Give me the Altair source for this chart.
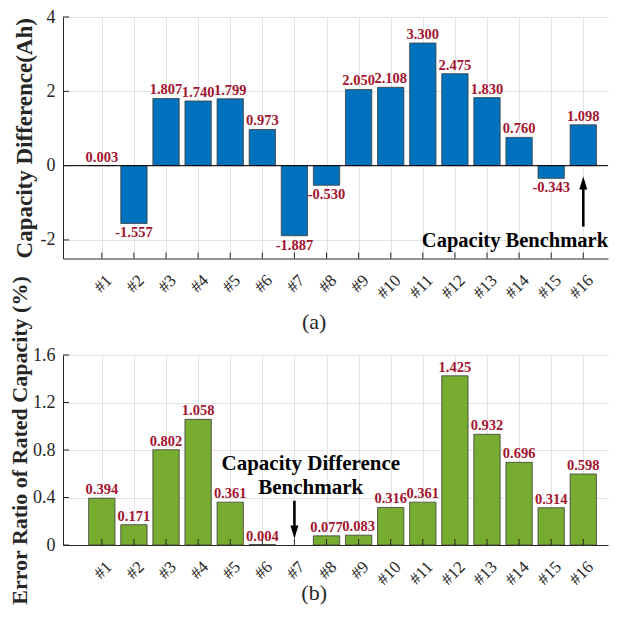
import altair as alt
import pandas as pd

# ---------------- data ----------------
cells = list(range(1, 17))
cap_diff = [0.003, -1.557, 1.807, 1.740, 1.799, 0.973, -1.887, -0.530,
            2.050, 2.108, 3.300, 2.475, 1.830, 0.760, -0.343, 1.098]
err_ratio = [0.394, 0.171, 0.802, 1.058, 0.361, 0.004, None, 0.077,
             0.083, 0.316, 0.361, 1.425, 0.932, 0.696, 0.314, 0.598]
top_ticks = [-2, 0, 2, 4]
bottom_ticks = [0, 0.4, 0.8, 1.2, 1.6]

top_note_text = ["Capacity Benchmark"]
top_note_x = [13.87]
top_note_y = [-2.19]
top_arrow_cell = [16]
top_arrow_tail = [-1.64]
top_arrow_base = [-0.62]
top_arrow_tip = [-0.29]

bottom_note_text = ["Capacity Difference", "Benchmark"]
bottom_note_x = [7.51, 7.51]
bottom_note_y = [0.634, 0.432]
bottom_arrow_cell = [7]
bottom_arrow_tail = [0.373]
bottom_arrow_base = [0.16]
bottom_arrow_tip = [0.053]

# ---------------- style ----------------
FONT = "Liberation Serif"
TXT = "#262626"
RED = "#A2142F"
BLUE = "#0072BD"
GREEN = "#77AC30"
GRID = "#e3e3e3"
EDGE = "#3c3c3c"
W = 545
H1 = 241.5
H2 = 190
XD = [-0.21, 16.77]


def x_axis(title, title_y):
    return alt.Axis(values=cells, labelExpr="'#' + datum.value", labelAngle=-45,
                    labelAlign="right", labelBaseline="middle", labelPadding=19,
                    labelOffset=7, labelFontSize=17, labelFont=FONT, labelColor=TXT,
                    labelOverlap=False, labelFlush=False, ticks=False,
                    grid=True, gridColor=GRID, gridWidth=1,
                    domainColor=TXT, domainWidth=1,
                    title=title, titleFont=FONT, titleFontSize=22,
                    titleFontWeight="normal", titleColor=TXT, titleX=250.7,
                    titleY=title_y, titleAlign="center", titleBaseline="alphabetic",
                    titleAngle=0)


def y_axis(title, values, tpad, tsize, ty):
    extra = {} if ty is None else {"titleY": ty}
    return alt.Axis(values=values, labelExpr="'' + datum.value", labelFontSize=18,
                    labelFont=FONT, labelColor=TXT, labelPadding=8, ticks=False,
                    grid=True, gridColor=GRID, gridWidth=1,
                    domainColor=TXT, domainWidth=1, labelFlush=False,
                    title=title, titleFont=FONT, titleFontSize=tsize,
                    titleFontWeight="bold", titleColor=TXT, titlePadding=tpad,
                    **extra)


def panel(values, color, ydomain, yticks, ytitle, tpad, tsize, ty, H,
          xtitle, xtitle_y, note_text, note_x, note_y, note_size,
          a_cell, a_tail, a_base, a_tip, arrow_up, zero_line):
    xs = alt.Scale(domain=XD, nice=False, zero=False)
    ys = alt.Scale(domain=ydomain, nice=False, zero=False)
    xa = x_axis(xtitle, xtitle_y)
    ya = y_axis(ytitle, yticks, tpad, tsize, ty)

    def X(f):
        return alt.X(f"{f}:Q", scale=xs, axis=xa)

    def Y(f):
        return alt.Y(f"{f}:Q", scale=ys, axis=ya)

    rows = [(c, v, f"{v:.3f}") for c, v in zip(cells, values) if v is not None]
    df = pd.DataFrame(rows, columns=["cell", "v", "label"])
    base = alt.Chart(df)

    bars = base.mark_bar(color=color, stroke=EDGE, strokeWidth=0.8).transform_calculate(
        lo="datum.cell - 0.41", hi="datum.cell + 0.41").encode(
        x=X("lo"), x2="hi:Q", y=Y("v"), y2=alt.datum(0))

    lab_pos = base.transform_filter("datum.v >= 0").mark_text(
        font=FONT, fontSize=14.5, fontWeight="bold", color=RED,
        baseline="bottom", dy=-1).encode(x=X("cell"), y=Y("v"), text="label:N")
    lab_neg = base.transform_filter("datum.v < 0").mark_text(
        font=FONT, fontSize=14.5, fontWeight="bold", color=RED,
        baseline="top", dy=3).encode(x=X("cell"), y=Y("v"), text="label:N")

    xt = alt.Chart(pd.DataFrame({"cell": cells})).mark_rule(color=TXT, strokeWidth=1).encode(
        x=X("cell"), y=alt.value(H), y2=alt.value(H - 6))
    yt = alt.Chart(pd.DataFrame({"v": yticks})).mark_rule(color=TXT, strokeWidth=1).encode(
        x=alt.value(0), x2=alt.value(6), y=Y("v"))

    ndf = pd.DataFrame({"x": note_x, "y": note_y, "t": note_text})
    note = alt.Chart(ndf).mark_text(font=FONT, fontSize=note_size, fontWeight="bold",
                                    color="black", align="center",
                                    baseline="alphabetic").encode(
        x=X("x"), y=Y("y"), text="t:N")

    adf = pd.DataFrame({"cell": a_cell, "tail": a_tail, "base": a_base, "tip": a_tip})
    shaft = alt.Chart(adf).mark_rule(color="black", strokeWidth=2.6).encode(
        x=X("cell"), y=Y("tail"), y2="base:Q")
    path = "M0,0L-1,3.3L1,3.3Z" if arrow_up else "M0,0L-1,-3.3L1,-3.3Z"
    head = alt.Chart(adf).mark_point(shape=path, filled=True, color="black",
                                     size=64, opacity=1, strokeWidth=0).encode(
        x=X("cell"), y=Y("tip"))

    layers = [bars]
    if zero_line:
        zero = alt.Chart(pd.DataFrame({"v": [0]})).mark_rule(
            color="black", strokeWidth=1).encode(y=Y("v"))
        layers.append(zero)
    layers += [xt, yt, lab_pos, lab_neg, shaft, head, note]
    return alt.layer(*layers).properties(width=W, height=H)


top = panel(cap_diff, BLUE, [-2.5, 4], top_ticks, "Capacity Difference(Ah)", 3.5, 23, None,
            H1, "(a)", 70, top_note_text, top_note_x, top_note_y, 20.5,
            top_arrow_cell, top_arrow_tail, top_arrow_base, top_arrow_tip, True, True)
bottom = panel(err_ratio, GREEN, [0, 1.6], bottom_ticks,
               "Error Ratio of Rated Capacity (%)", 1, 22, 85, H2,
               "(b)", 54, bottom_note_text, bottom_note_x, bottom_note_y, 21,
               bottom_arrow_cell, bottom_arrow_tail, bottom_arrow_base, bottom_arrow_tip,
               False, False)

chart = alt.vconcat(top, bottom, spacing=96, bounds="flush").properties(
    padding={"left": 0, "top": 0, "right": 0, "bottom": 0},
    background="white",
).configure_view(stroke=None)

chart.save("out.html", embed_options={"renderer": "svg", "actions": False})
